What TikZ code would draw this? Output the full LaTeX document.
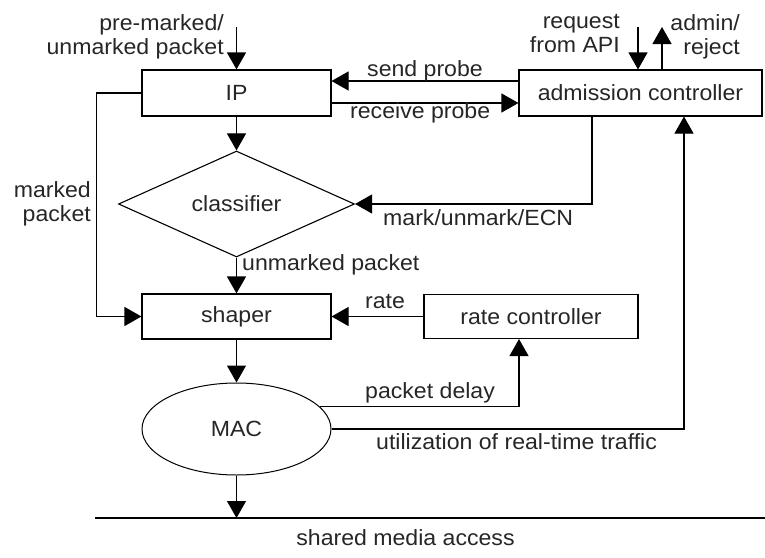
\documentclass[tikz,border=0pt]{standalone}
\usepackage{fontspec}
\setmainfont{Liberation Sans}[FakeStretch=1.05]
\usetikzlibrary{arrows.meta,shapes.geometric}

\begin{document}
\begin{tikzpicture}[x=1pt,y=-1pt,
  every node/.style={font=\fontsize{22}{24}\selectfont, inner sep=0pt},
  line/.style={line width=1.1pt},
  arr/.style={line, -{Triangle[length=17pt,width=19pt]}},
  block/.style={draw, line width=1.1pt, rectangle, minimum height=46pt, text=black!85},
  lbl/.style={text=black!85}]

% canvas
\useasboundingbox (0,0) rectangle (765,557);

% blocks
\node[block, minimum width=189pt] (ip)  at (236.5,93) {IP};
\node[block, minimum width=243pt] (ac)  at (640.5,93) {admission controller};
\node[diamond, draw, line width=1.1pt, text=black!85, minimum width=236pt, minimum height=88pt] (cls) at (236.5,204) {classifier};
\node[block, minimum width=189pt, minimum height=45pt] (shp) at (236.5,316.5) {shaper};
\node[block, minimum width=214pt, minimum height=44pt] (rc)  at (531,316.5) {rate controller};
\node[ellipse, draw, line width=1pt, text=black!85, minimum width=189pt, minimum height=92pt] (mac) at (236.5,429) {MAC};

% free ends
\coordinate (in)  at (236.5,27);
\coordinate (req) at (638,27);
\coordinate (adm) at (662,27);
\coordinate (sl)  at (95,518);
\coordinate (sr)  at (765,518);

% shared medium
\draw[line] (sl) -- (sr);

% packet path
\draw[arr] (in) -- (ip.north);
\draw[arr] (ip.south) -- (cls.north);
\draw[arr] (cls.south) -- (shp.north);
\draw[arr] (ip.west) -- ++(-45,0) |- (shp.west);
\draw[arr] (shp.south) -- (mac.north);
\draw[arr] (mac.south) -- (mac.south |- sl);

% control signals
\draw[arr] ([yshift=12pt]ac.west) -- ([yshift=12pt]ac.west -| ip.east);
\draw[arr] ([yshift=-10pt]ip.east) -- ([yshift=-10pt]ip.east -| ac.west);
\draw[arr] ([xshift=-48.5pt]ac.south) |- (cls.east);
\draw[arr] (rc.west) -- (shp.east);
\draw[arr] (mac.15.7) -| ([xshift=-12pt]rc.south);
\draw[arr] (mac.east) -| ([xshift=43.5pt]ac.south);
\draw[arr] (req) -- (req |- ac.north);
\draw[arr] (adm |- ac.north) -- (adm);

% labels
\node[lbl, anchor=north east, align=right] (lin) at (224,14) {pre-marked/\\unmarked packet};
\node[lbl, anchor=north east, align=right] (lreq) at (620,14) {request\\from API};
\node[lbl, anchor=north east, align=right] (ladm) at (740,14) {admin/\\reject};
\node[lbl, anchor=north east, align=right] (lmk) at (91,181) {marked\\packet};
\node[lbl, anchor=base west] (lunm) at (242,270) {unmarked packet};
\node[lbl, anchor=base] (lsend) at (425,76) {send probe};
\node[lbl, anchor=base west] (lrecv) at (350,118) {receive probe};
\node[lbl, anchor=base west] (lmark) at (383,225) {mark/unmark/ECN};
\node[lbl, anchor=base] (lrate) at (385,308) {rate};
\node[lbl, anchor=base west] (ldel) at (365,398) {packet delay};
\node[lbl, anchor=base west] (lutil) at (376,449) {utilization of real-time traffic};
\node[lbl, anchor=base] (lsh) at (405.5,545) {shared media access};
\end{tikzpicture}
\end{document}
